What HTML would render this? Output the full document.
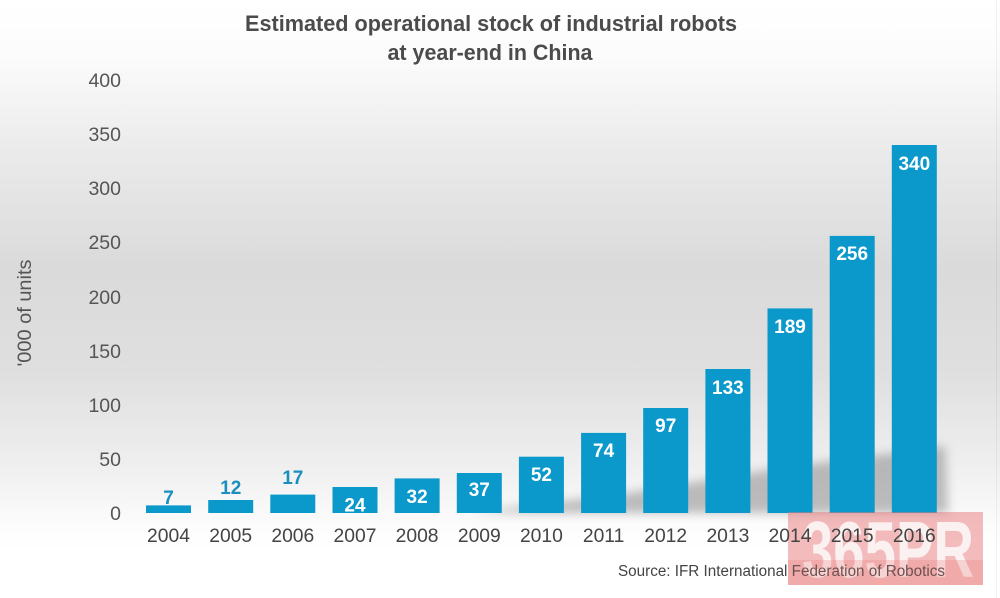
<!DOCTYPE html>
<html><head><meta charset="utf-8"><style>
html,body{margin:0;padding:0;background:#fff;}
svg{display:block;}
</style></head><body>
<svg width="1000" height="598" viewBox="0 0 1000 598" xmlns="http://www.w3.org/2000/svg" font-family="Liberation Sans, Arial, sans-serif">
<defs>
<linearGradient id="bg" x1="0" y1="0" x2="0" y2="1">
<stop offset="0" stop-color="#ffffff"/>
<stop offset="0.09" stop-color="#fcfcfc"/>
<stop offset="0.25" stop-color="#ebebeb"/>
<stop offset="0.45" stop-color="#dadada"/>
<stop offset="0.62" stop-color="#dfdfdf"/>
<stop offset="0.78" stop-color="#efefef"/>
<stop offset="0.88" stop-color="#fcfcfc"/>
<stop offset="0.92" stop-color="#ffffff"/>
<stop offset="1" stop-color="#ffffff"/>
</linearGradient>
<filter id="blur" x="-20%" y="-50%" width="140%" height="200%"><feGaussianBlur stdDeviation="5"/></filter>
</defs>
<rect width="1000" height="598" fill="url(#bg)"/>
<line x1="996.5" y1="0" x2="996.5" y2="598" stroke="#000" stroke-opacity="0.05"/>

<!-- Title -->
<text x="491" y="31" font-size="22" font-weight="bold" fill="#4b4b4b" text-anchor="middle" textLength="492" lengthAdjust="spacingAndGlyphs">Estimated operational stock of industrial robots</text>
<text x="490" y="60" font-size="22" font-weight="bold" fill="#4b4b4b" text-anchor="middle" textLength="205" lengthAdjust="spacingAndGlyphs">at year-end in China</text>

<!-- Y axis title -->
<text transform="translate(31,313) rotate(-90)" font-size="19" fill="#555" text-anchor="middle" textLength="107" lengthAdjust="spacingAndGlyphs">'000 of units</text>

<!-- Y tick labels -->
<g font-size="19.5" fill="#555" text-anchor="end">
<text x="121" y="520">0</text>
<text x="121" y="466">50</text>
<text x="121" y="412">100</text>
<text x="121" y="358">150</text>
<text x="121" y="304">200</text>
<text x="121" y="249">250</text>
<text x="121" y="195">300</text>
<text x="121" y="141">350</text>
<text x="121" y="87">400</text>
</g>

<!-- Shadow -->
<polygon points="470,513 620,494 780,468 945,446 948,513" fill="#808080" opacity="0.5" filter="url(#blur)"/>

<!-- Bars -->
<g fill="#0b98cb">
<rect x="146" y="505.4" width="45" height="7.6"/>
<rect x="208.2" y="500" width="45" height="13"/>
<rect x="270.3" y="494.6" width="45" height="18.4"/>
<rect x="332.5" y="487" width="45" height="26"/>
<rect x="394.6" y="478.4" width="45" height="34.6"/>
<rect x="456.8" y="473" width="45" height="40"/>
<rect x="518.9" y="456.7" width="45" height="56.3"/>
<rect x="581.1" y="432.9" width="45" height="80.1"/>
<rect x="643.2" y="408" width="45" height="105"/>
<rect x="705.4" y="369" width="45" height="144"/>
<rect x="767.5" y="308.4" width="45" height="204.6"/>
<rect x="829.7" y="235.9" width="45" height="277.1"/>
<rect x="891.8" y="145" width="45" height="368"/>
</g>

<!-- Value labels -->
<g font-size="19" font-weight="bold" text-anchor="middle">
<text x="168.5" y="504" fill="#1a8fbf">7</text>
<text x="230.7" y="494" fill="#1a8fbf">12</text>
<text x="292.8" y="484" fill="#1a8fbf">17</text>
<g fill="#ffffff">
<text x="355" y="511.5">24</text>
<text x="417.1" y="503">32</text>
<text x="479.3" y="496">37</text>
<text x="541.4" y="481">52</text>
<text x="603.6" y="457">74</text>
<text x="665.7" y="432">97</text>
<text x="727.9" y="394">133</text>
<text x="790" y="333">189</text>
<text x="852.2" y="260">256</text>
<text x="914.3" y="170">340</text>
</g>
</g>

<!-- Watermark background -->
<rect x="788" y="512" width="195" height="73" fill="#e87878" opacity="0.5"/>
<text x="802" y="577" font-size="80" font-weight="bold" fill="#ffffff" opacity="0.8" textLength="172" lengthAdjust="spacingAndGlyphs">365PR</text>

<!-- Year labels -->
<g font-size="19.3" fill="#444" text-anchor="middle">
<text x="168.5" y="542">2004</text>
<text x="230.7" y="542">2005</text>
<text x="292.8" y="542">2006</text>
<text x="355" y="542">2007</text>
<text x="417.1" y="542">2008</text>
<text x="479.3" y="542">2009</text>
<text x="541.4" y="542">2010</text>
<text x="603.6" y="542">2011</text>
<text x="665.7" y="542">2012</text>
<text x="727.9" y="542">2013</text>
<text x="790" y="542">2014</text>
<text x="852.2" y="542">2015</text>
<text x="914.3" y="542">2016</text>
</g>

<!-- Source -->
<text x="618" y="576" font-size="15.5" fill="#444" textLength="327" lengthAdjust="spacingAndGlyphs">Source: IFR International Federation of Robotics</text>
<rect x="788" y="560" width="195" height="25" fill="#e87878" opacity="0.25"/>
</svg>
</body></html>
